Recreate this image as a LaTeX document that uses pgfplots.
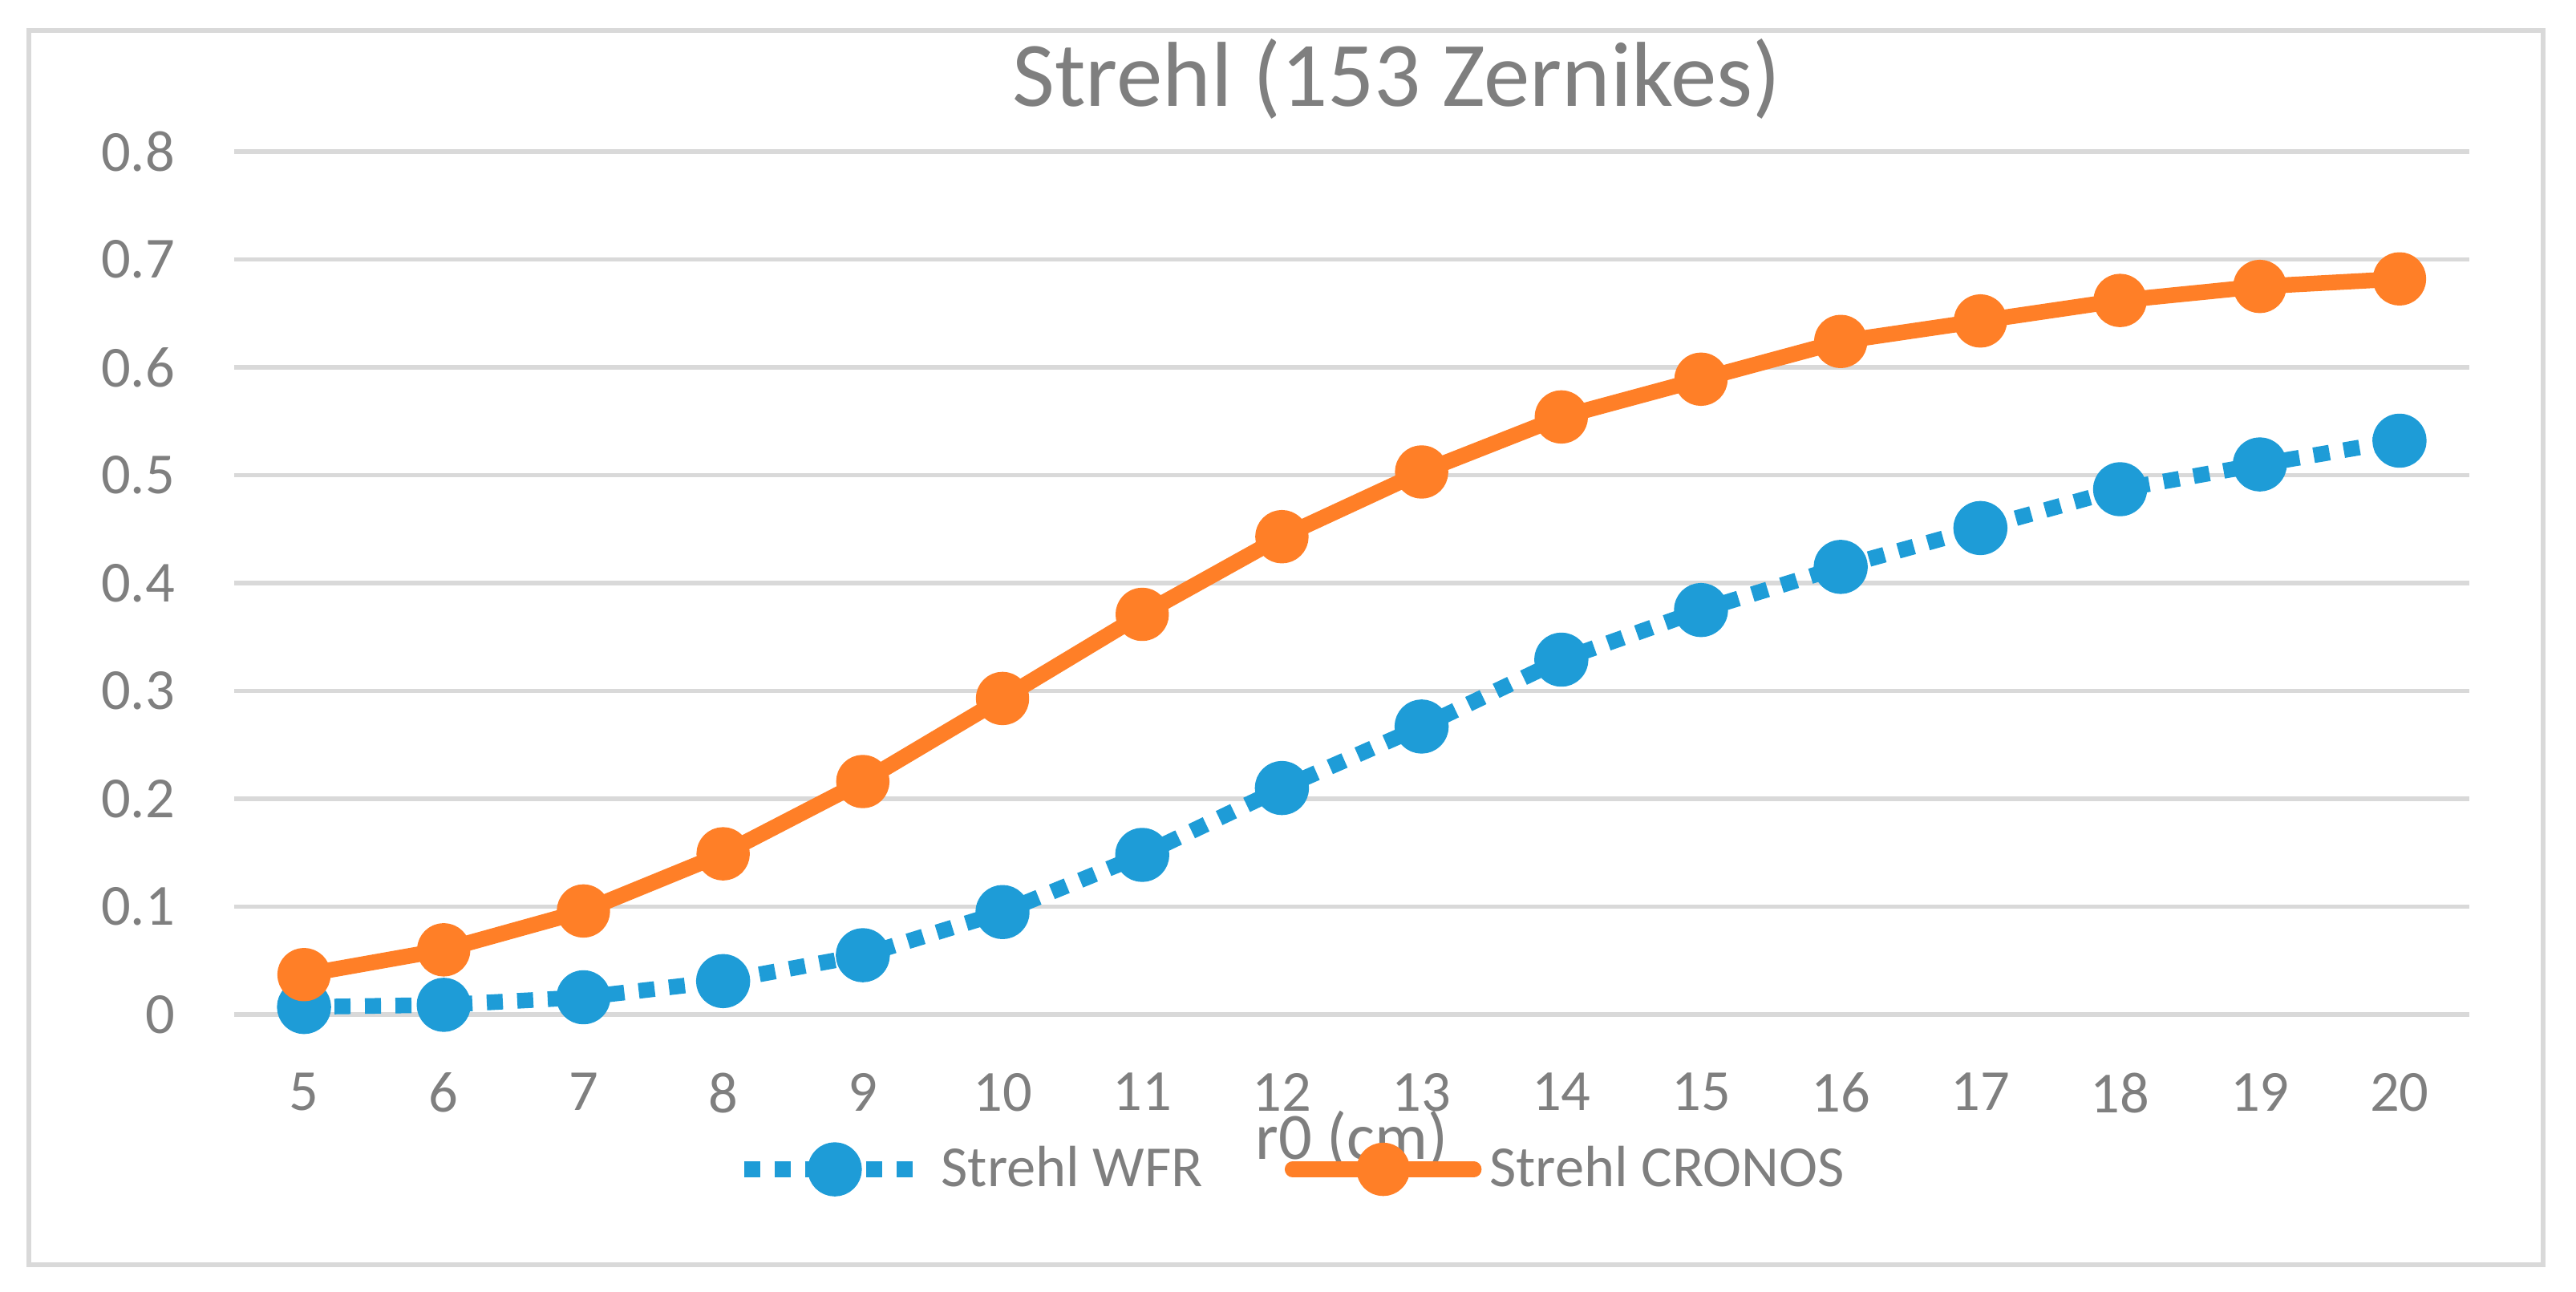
\documentclass[border=0pt]{standalone}
\usepackage{fontspec}
\setmainfont{Carlito}
\usepackage{pgfplots}
\pgfplotsset{compat=1.18}
\definecolor{wfrblue}{RGB}{30,156,215}
\definecolor{cronosorange}{RGB}{255,127,39}
\definecolor{txtgray}{RGB}{127,127,127}
\definecolor{gridgray}{RGB}{217,217,217}

\begin{document}
\begin{tikzpicture}
% 1 px of the reference = 0.2pt
\path[use as bounding box] (0pt,0pt) rectangle (642.4pt,-322pt);
% chart frame
\draw[gridgray, line width=1.2pt] (7.2pt,-7.6pt) rectangle (634.2pt,-315.4pt);
\begin{axis}[
    at={(58.4pt,-253pt)}, anchor=south west,
    scale only axis, width=557.4pt, height=215.2pt,
    xmin=4.5, xmax=20.5, ymin=0, ymax=0.8,
    xtick={5,...,20},
    ytick={0,0.1,0.2,0.3,0.4,0.5,0.6,0.7,0.8},
    axis line style={draw=none}, major tick length=0pt,
    ymajorgrids, grid style={gridgray, line width=1.1pt},
    tick label style={font=\fontsize{14.5}{17}\selectfont, text=txtgray},
    /pgf/number format/assume math mode=true,
    yticklabel style={anchor=east, inner sep=0pt, xshift=-14.6pt},
    xticklabel style={anchor=north, inner sep=0pt, yshift=-14.4pt},
    xlabel={r0 (cm)},
    xlabel style={at={(axis description cs:0.5,-0.1673)}, anchor=base,
        font=\fontsize{16.5}{20}\selectfont, text=txtgray},
    title={Strehl (153 Zernikes)},
    title style={at={(axis description cs:0.52,1.0242)}, anchor=base, yshift=0pt,
        font=\fontsize{23}{28}\selectfont, text=txtgray},
    legend columns=2,
    legend style={at={(axis description cs:0.2243,-0.1794)}, anchor=west,
        draw=none, fill=none, inner sep=0pt,
        font=\fontsize{14.5}{17}\selectfont, text=txtgray,
        /tikz/every even column/.append style={column sep=18.4pt}},
    legend image code/.code={
        \draw[mark repeat=2, mark phase=2, #1]
            plot coordinates {(0pt,0pt) (22.6pt,0pt) (45.2pt,0pt)};},
    clip=false,
]
\addplot[wfrblue, line width=3.9pt, dash pattern=on 4pt off 3.6pt,
    line cap=butt, line join=round,
    mark=*, mark size=4.8pt, mark options={solid, fill=wfrblue, draw=none}]
coordinates {
    (5,0.007) (6,0.009) (7,0.016) (8,0.031) (9,0.055) (10,0.095)
    (11,0.148) (12,0.210) (13,0.267) (14,0.329) (15,0.375) (16,0.415)
    (17,0.451) (18,0.487) (19,0.510) (20,0.532)
};
\addlegendentry{Strehl WFR}
\addplot[cronosorange, line width=3.9pt, line cap=round, line join=round,
    mark=*, mark size=4.7pt, mark options={fill=cronosorange, draw=none}]
coordinates {
    (5,0.037) (6,0.060) (7,0.096) (8,0.149) (9,0.216) (10,0.293)
    (11,0.371) (12,0.443) (13,0.503) (14,0.554) (15,0.589) (16,0.624)
    (17,0.643) (18,0.662) (19,0.675) (20,0.682)
};
\addlegendentry{Strehl CRONOS}
\end{axis}
\end{tikzpicture}
\end{document}
